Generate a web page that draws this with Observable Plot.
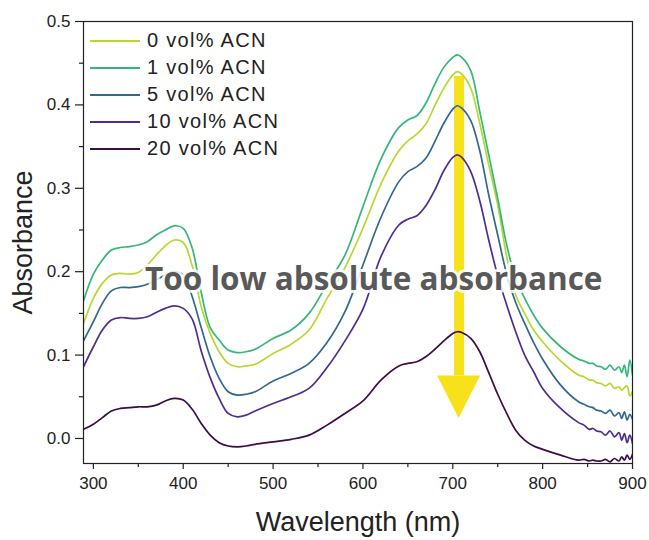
<!DOCTYPE html>
<html>
<head>
<meta charset="utf-8">
<script src="https://cdn.jsdelivr.net/npm/d3@7"></script>
<script src="https://cdn.jsdelivr.net/npm/@observablehq/plot@0.6"></script>
<style>
  html, body { margin: 0; padding: 0; background: #fff; }
  #wrap { position: relative; width: 649px; height: 540px; font-family: "Liberation Sans", Arial, sans-serif; }
  #legend { position: absolute; left: 90px; top: 27px; }
  .row { display: flex; align-items: center; height: 27px; }
  .sw { width: 50px; height: 2px; margin-right: 7px; }
  .lab { font-size: 20px; letter-spacing: 1.3px; color: #222; line-height: 27px; }
</style>
</head>
<body>
<div id="wrap"><div id="legend"></div></div>
<script>
const series = ["0 vol% ACN", "1 vol% ACN", "5 vol% ACN", "10 vol% ACN", "20 vol% ACN"];
const colors = ["#b5d92e", "#35b779", "#31688e", "#4e2d92", "#3b0b4a"];

const wavelengths = [289,300,310,320,330,340,350,360,370,380,390,400,410,420,430,440,450,460,470,480,
  500,520,540,560,580,600,620,640,650,660,670,680,690,700,705,710,720,730,740,750,760,770,780,790,800,
  820,840,846,852,856,860,865,870,875,880,885,888,891,894,897,900];

const vol0 = [0.138,0.168,0.186,0.196,0.198,0.197,0.199,0.208,0.220,0.231,0.238,0.235,0.207,0.158,0.126,0.104,0.090,0.086,0.087,0.089,
  0.102,0.113,0.130,0.168,0.205,0.252,0.305,0.345,0.357,0.365,0.377,0.399,0.420,0.436,0.440,0.437,0.420,0.378,0.328,0.280,0.218,0.172,0.150,0.130,0.116,
  0.093,0.076,0.074,0.070,0.070,0.067,0.066,0.063,0.066,0.060,0.062,0.058,0.061,0.063,0.051,0.056];
const vol1 = [0.165,0.197,0.214,0.226,0.229,0.230,0.232,0.236,0.244,0.250,0.255,0.252,0.228,0.175,0.133,0.118,0.106,0.103,0.104,0.107,
  0.120,0.130,0.150,0.185,0.220,0.278,0.335,0.373,0.382,0.387,0.402,0.425,0.445,0.457,0.460,0.457,0.441,0.392,0.340,0.288,0.232,0.192,0.168,0.148,0.132,
  0.110,0.095,0.093,0.090,0.090,0.087,0.086,0.083,0.088,0.082,0.086,0.079,0.088,0.074,0.094,0.076];
const vol5 = [0.117,0.140,0.162,0.177,0.181,0.181,0.182,0.185,0.190,0.196,0.200,0.196,0.170,0.133,0.098,0.072,0.056,0.052,0.053,0.056,
  0.069,0.078,0.090,0.115,0.152,0.208,0.265,0.308,0.320,0.326,0.336,0.356,0.378,0.395,0.399,0.396,0.381,0.345,0.292,0.244,0.197,0.163,0.138,0.115,0.095,
  0.064,0.044,0.041,0.038,0.037,0.034,0.033,0.030,0.034,0.027,0.031,0.024,0.032,0.022,0.029,0.023];
const vol10 = [0.086,0.110,0.130,0.142,0.145,0.144,0.144,0.146,0.151,0.156,0.159,0.156,0.143,0.105,0.073,0.048,0.030,0.026,0.028,0.033,
  0.042,0.050,0.060,0.085,0.117,0.155,0.218,0.256,0.263,0.267,0.279,0.298,0.321,0.337,0.340,0.337,0.320,0.285,0.238,0.195,0.160,0.128,0.100,0.080,0.060,
  0.036,0.019,0.016,0.011,0.012,0.009,0.008,0.004,0.009,0.002,0.007,-0.002,0.006,-0.005,0.004,-0.006];
const vol20 = [0.011,0.017,0.025,0.033,0.036,0.037,0.038,0.038,0.040,0.045,0.048,0.046,0.035,0.018,0.004,-0.005,-0.009,-0.010,-0.009,-0.007,
  -0.004,-0.001,0.004,0.016,0.030,0.045,0.070,0.087,0.090,0.092,0.098,0.107,0.117,0.126,0.128,0.127,0.120,0.104,0.079,0.053,0.030,0.010,-0.002,-0.009,-0.013,
  -0.020,-0.026,-0.025,-0.027,-0.026,-0.027,-0.027,-0.025,-0.028,-0.024,-0.027,-0.022,-0.026,-0.020,-0.025,-0.019];

const xTicks = [300, 400, 500, 600, 700, 800, 900];
const xMinor = [350, 450, 550, 650, 750, 850];
const yTicks = [0.0, 0.1, 0.2, 0.3, 0.4, 0.5];
const yMinor = [0.05, 0.15, 0.25, 0.35, 0.45];

// arrow (wavelength position, shaft top, head base, tip, head half-width in nm)
const arrowX = 707;
const arrowTop = 0.434;
const arrowHeadBase = 0.075;
const arrowTip = 0.024;
const arrowHalf = 24;

const noteText = ["Too low absolute absorbance"];
const noteX = [612];
const noteY = [0.19];

const allValues = [vol0, vol1, vol5, vol10, vol20];
const table = [];
series.forEach((s, i) => {
  wavelengths.forEach((w, j) => table.push({w, a: allValues[i][j], s}));
});
const shaft = [{x: arrowX, y1: arrowTop, y2: arrowHeadBase}];
const head = [
  {y: arrowHeadBase, x1: arrowX - arrowHalf, x2: arrowX + arrowHalf},
  {y: arrowTip, x1: arrowX, x2: arrowX}
];
const notes = noteText.map((t, i) => ({t, x: noteX[i], y: noteY[i]}));
const yellow = "#f7e11b";

const chart = Plot.plot({
  width: 649,
  height: 540,
  marginLeft: 83,
  marginRight: 17,
  marginTop: 21,
  marginBottom: 77,
  x: {domain: [289, 900]},
  y: {domain: [-0.03, 0.5]},
  color: {domain: series, range: colors},
  style: {fontFamily: "'Liberation Sans', Arial, sans-serif", fontSize: "17px", color: "#222", background: "white"},
  marks: [
    Plot.ruleX(shaft, {x: "x", y1: "y1", y2: "y2", stroke: yellow, strokeWidth: 10}),
    Plot.areaX(head, {y: "y", x1: "x1", x2: "x2", fill: yellow}),
    Plot.line(table, {x: "w", y: "a", z: "s", stroke: "s", strokeWidth: 1.7, curve: "catmull-rom", clip: true}),
    Plot.text(notes, {x: "x", y: "y", text: "t", fontSize: 31.5, fontWeight: "bold", fontFamily: "'Open Sans', sans-serif",
      fill: "#595959", stroke: "white", strokeWidth: 6, strokeOpacity: 0.85, paintOrder: "stroke", lineAnchor: "middle"}),
    Plot.frame({stroke: "#222", strokeWidth: 1.2}),
    Plot.axisX({ticks: xTicks, tickSize: 6, tickPadding: 7, label: null, strokeWidth: 1.2}),
    Plot.axisX({ticks: xMinor, tickSize: 4, text: null, label: null, strokeWidth: 1.2}),
    Plot.axisY({ticks: yTicks, tickSize: 8, tickPadding: 5, tickFormat: d3.format(".1f"), label: null, strokeWidth: 1.2}),
    Plot.axisY({ticks: yMinor, tickSize: 4, text: null, label: null, strokeWidth: 1.2}),
    Plot.text(["Wavelength (nm)"], {frameAnchor: "bottom", dy: 59, lineAnchor: "middle", fontSize: 27}),
    Plot.text(["Absorbance"], {frameAnchor: "left", dx: -60, rotate: -90, textAnchor: "middle", lineAnchor: "middle", fontSize: 27})
  ]
});
document.getElementById("wrap").prepend(chart);

const legend = d3.select("#legend");
series.forEach((s, i) => {
  const row = legend.append("div").attr("class", "row");
  row.append("div").attr("class", "sw").style("background", colors[i]);
  row.append("div").attr("class", "lab").text(s);
});
</script>
</body>
</html>
